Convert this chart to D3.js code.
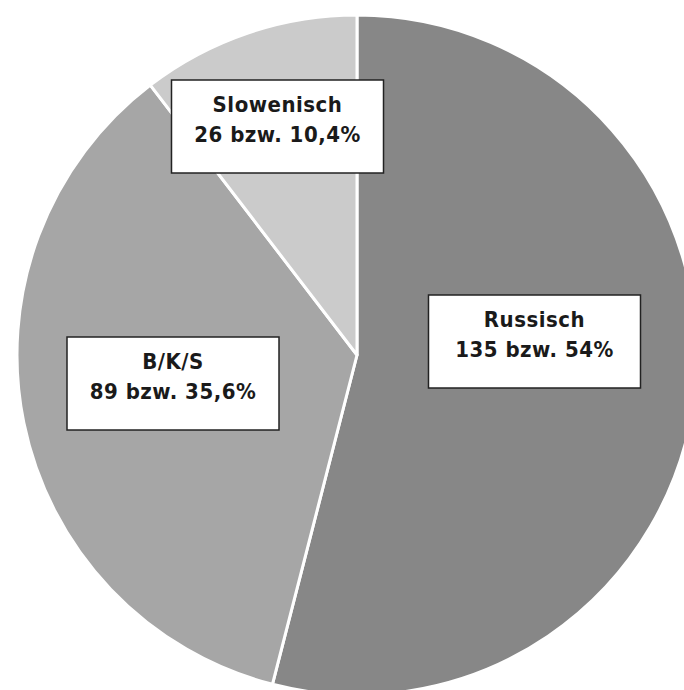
<!DOCTYPE html>
<html>
<head>
<meta charset="utf-8">
<script src="https://cdn.jsdelivr.net/npm/d3@7"></script>
<style>
  html, body { margin: 0; padding: 0; background: #fff; }
  svg { display: block; }
  .lbl { font-family: "DejaVu Sans Condensed", "DejaVu Sans", sans-serif; font-stretch: condensed; font-weight: bold; fill: #1a1a1a; letter-spacing: 0.5px; }
</style>
</head>
<body>
<svg id="chart" width="684" height="690"></svg>
<script>
const categories = ["Russisch", "B/K/S", "Slowenisch"];
const counts = [135, 89, 26];
const percents = ["54%", "35,6%", "10,4%"];
const colors = ["#878787", "#a6a6a6", "#cbcbcb"];

const W = 684, H = 690;
const cx = 357, cy = 355, R = 340;

const svg = d3.select("#chart");
const g = svg.append("g").attr("transform", `translate(${cx},${cy})`);

const data = categories.map((c, i) => ({ cat: c, n: counts[i], pct: percents[i], color: colors[i] }));
const pie = d3.pie().value(d => d.n).sort(null);
const arcs = pie(data);
const arc = d3.arc().innerRadius(0).outerRadius(R);

g.selectAll("path.slice")
  .data(arcs)
  .join("path")
  .attr("class", "slice")
  .attr("d", arc)
  .attr("fill", d => d.data.color)
  .attr("stroke", "#fff")
  .attr("stroke-width", 3)
  .attr("stroke-linejoin", "round");

// label box layout (centre of each box relative to pie centre)
const boxW = 212, boxH = 93;
const labelLayout = [
  { x: 177.5, y: -13.5 },
  { x: -184, y: 28.5 },
  { x: -79.5, y: -228.5 }
];

arcs.forEach((a, i) => {
  const p = labelLayout[i];
  const lg = g.append("g").attr("transform", `translate(${p.x},${p.y})`);
  lg.append("rect")
    .attr("x", -boxW / 2).attr("y", -boxH / 2)
    .attr("width", boxW).attr("height", boxH)
    .attr("fill", "#fff").attr("stroke", "#222").attr("stroke-width", 1.5);
  lg.append("text").attr("class", "lbl")
    .attr("text-anchor", "middle").attr("font-size", 22)
    .attr("y", -14.5).text(a.data.cat);
  lg.append("text").attr("class", "lbl")
    .attr("text-anchor", "middle").attr("font-size", 22)
    .attr("y", 15).text(`${a.data.n} bzw. ${a.data.pct}`);
});
</script>
</body>
</html>
